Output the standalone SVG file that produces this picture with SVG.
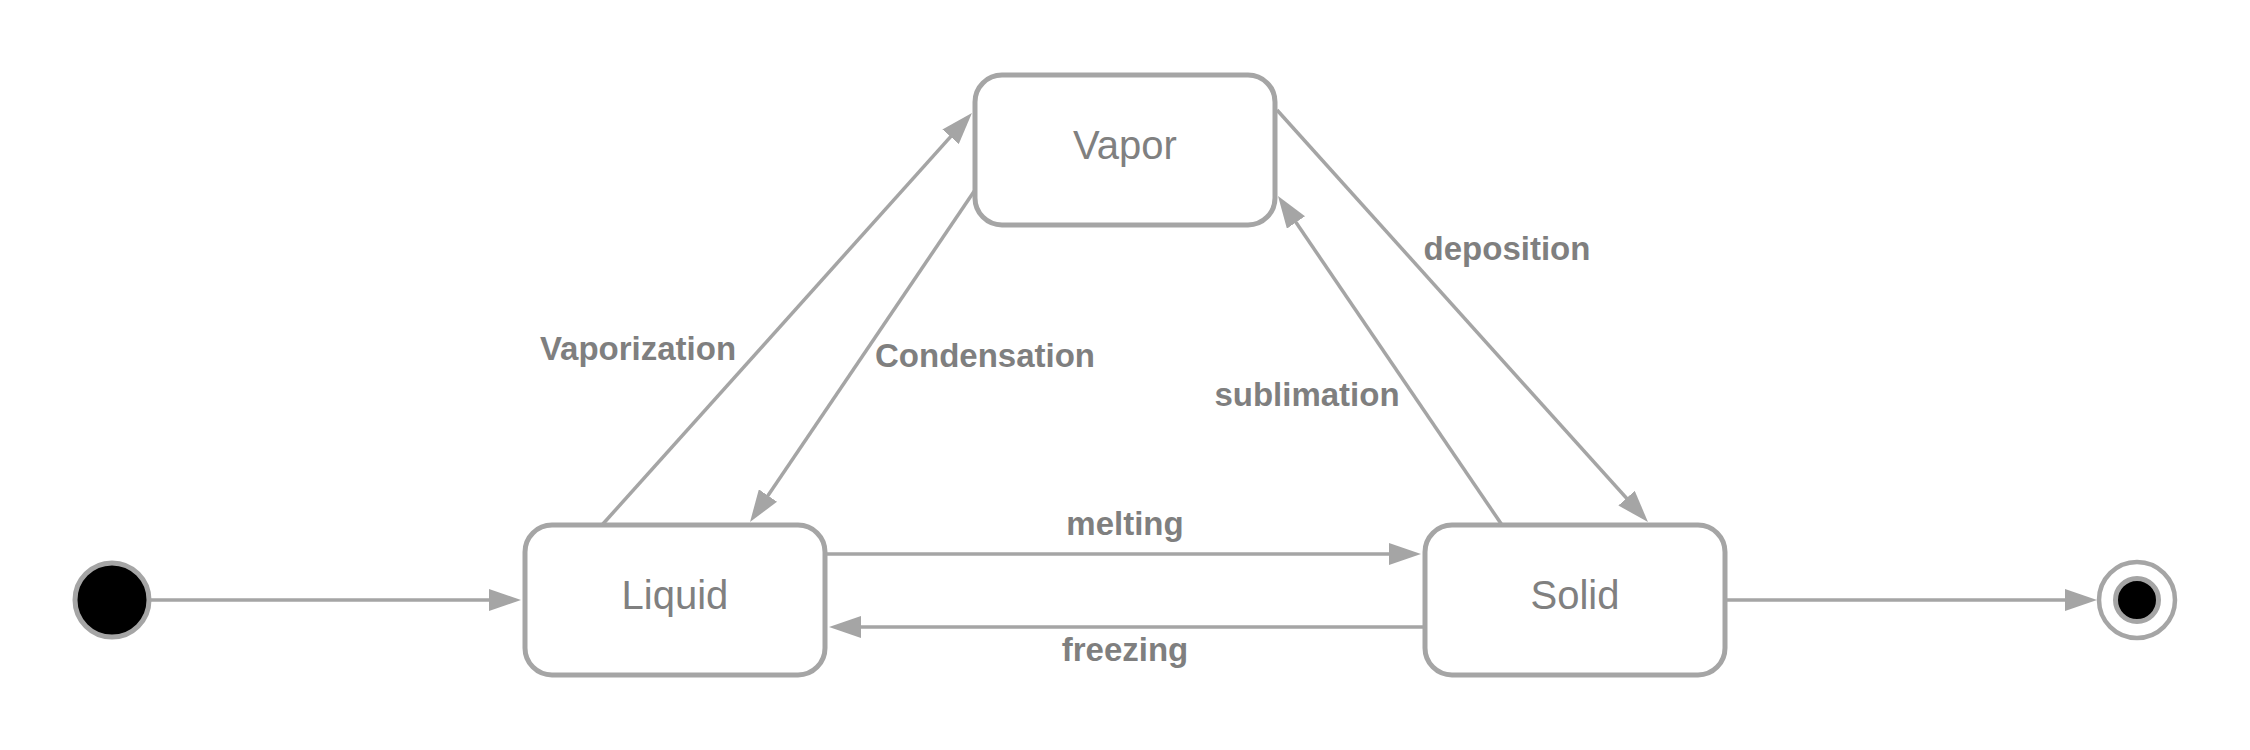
<svg xmlns="http://www.w3.org/2000/svg" width="2250" height="750" viewBox="0 0 2250 750">
<style>
.state{fill:#ffffff;stroke:#a5a5a5;stroke-width:5}
.name{font-family:"Liberation Sans",Arial,sans-serif;font-size:40px;fill:#808080;text-anchor:middle}
.lbl{font-family:"Liberation Sans",Arial,sans-serif;font-size:33px;font-weight:bold;fill:#7f7f7f;text-anchor:middle}
.edge{stroke:#a5a5a5;stroke-width:3.5;fill:none;marker-end:url(#arrow)}
.term{stroke:#a5a5a5}
</style>
<defs>
<marker id="arrow" viewBox="0 0 32 22" markerWidth="32" markerHeight="22" refX="24" refY="11" orient="auto" markerUnits="userSpaceOnUse">
<path d="M0,0 L32,11 L0,22 z" fill="#a5a5a5"/>
</marker>
</defs>
<rect width="2250" height="750" fill="#ffffff"/>
<g id="connectors">
<line class="edge" x1="150" y1="600" x2="513" y2="600"/>
<line class="edge" x1="602" y1="525" x2="966.6" y2="118.9"/>
<line class="edge" x1="975" y1="190" x2="754.5" y2="515.4"/>
<line class="edge" x1="1277" y1="110" x2="1642.6" y2="516"/>
<line class="edge" x1="1502" y1="525" x2="1282.5" y2="202.6"/>
<line class="edge" x1="827" y1="554" x2="1413" y2="554"/>
<line class="edge" x1="1423" y1="627" x2="837" y2="627"/>
<line class="edge" x1="1727" y1="600" x2="2089" y2="600"/>
<text class="lbl" x="638" y="360">Vaporization</text>
<text class="lbl" x="985" y="367">Condensation</text>
<text class="lbl" x="1507" y="260">deposition</text>
<text class="lbl" x="1307" y="406">sublimation</text>
<text class="lbl" x="1125" y="535">melting</text>
<text class="lbl" x="1125" y="661">freezing</text>
</g>
<g id="initial">
<circle class="term" cx="112" cy="600" r="37" fill="#000000" stroke-width="5"/>
</g>
<g id="vapor">
<rect class="state" x="975" y="75" width="300" height="150" rx="27" ry="27"/>
<text class="name" x="1125" y="159">Vapor</text>
</g>
<g id="liquid">
<rect class="state" x="525" y="525" width="300" height="150" rx="27" ry="27"/>
<text class="name" x="675" y="609">Liquid</text>
</g>
<g id="solid">
<rect class="state" x="1425" y="525" width="300" height="150" rx="27" ry="27"/>
<text class="name" x="1575" y="609">Solid</text>
</g>
<g id="final">
<circle class="term" cx="2137" cy="600" r="38" fill="#ffffff" stroke-width="4.5"/>
<circle class="term" cx="2137" cy="600" r="21.5" fill="#000000" stroke-width="5"/>
</g>
</svg>
